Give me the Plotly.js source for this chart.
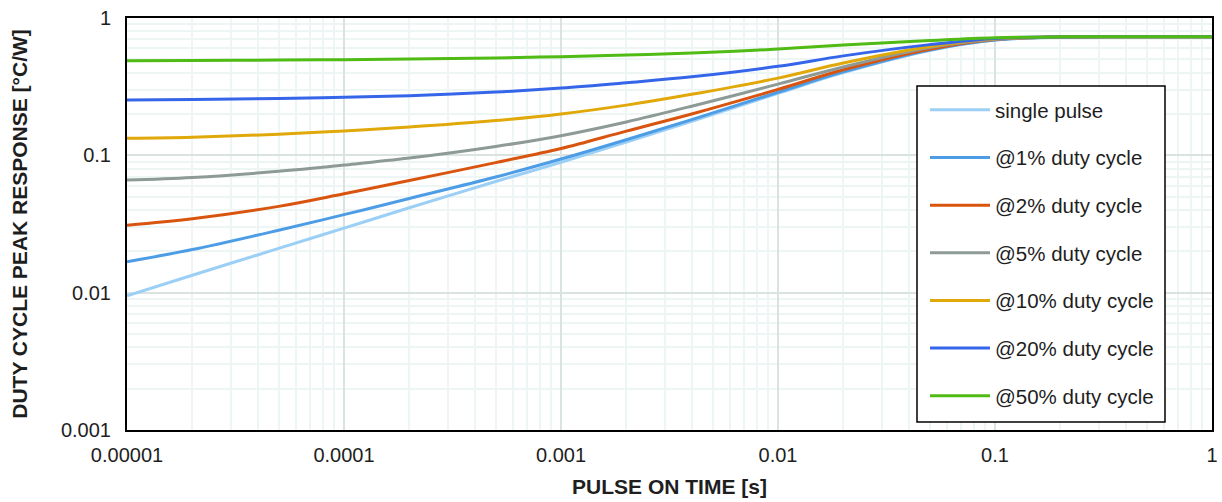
<!DOCTYPE html>
<html>
<head>
<meta charset="utf-8">
<script src="https://cdn.plot.ly/plotly-3.0.1.min.js"></script>
<style>html,body{margin:0;padding:0;background:#fff;}#chart{width:1222px;height:502px;}</style>
</head>
<body>
<div id="chart"></div>
<script>
// Pulse on time [s]
var pulseTime = [1e-5, 2e-5, 5e-5, 1e-4, 2e-4, 5e-4, 1e-3, 2e-3, 4e-3, 1e-2, 2e-2, 5e-2, 0.1, 0.2, 0.5, 1];

var singlePulse = [0.0095, 0.0134, 0.021, 0.0295, 0.0415, 0.0645, 0.089, 0.125, 0.177, 0.283, 0.40, 0.58, 0.69, 0.725, 0.73, 0.73];
var duty1  = [0.0168, 0.0206, 0.0285, 0.037, 0.0485, 0.0695, 0.094, 0.13, 0.182, 0.288, 0.405, 0.585, 0.692, 0.726, 0.73, 0.73];
var duty2  = [0.031, 0.0345, 0.0425, 0.0525, 0.0655, 0.0885, 0.112, 0.15, 0.20, 0.302, 0.42, 0.593, 0.697, 0.727, 0.73, 0.73];
var duty5  = [0.066, 0.069, 0.0765, 0.085, 0.0955, 0.116, 0.139, 0.175, 0.228, 0.33, 0.44, 0.61, 0.70, 0.727, 0.73, 0.73];
var duty10 = [0.133, 0.1355, 0.1425, 0.1505, 0.1605, 0.179, 0.20, 0.232, 0.278, 0.365, 0.47, 0.62, 0.705, 0.728, 0.73, 0.73];
var duty20 = [0.253, 0.2555, 0.2595, 0.2645, 0.272, 0.289, 0.309, 0.338, 0.373, 0.445, 0.53, 0.64, 0.71, 0.728, 0.73, 0.73];
var duty50 = [0.489, 0.491, 0.494, 0.497, 0.503, 0.512, 0.523, 0.537, 0.555, 0.594, 0.635, 0.685, 0.718, 0.729, 0.73, 0.73];

var seriesNames = ['single pulse', '@1% duty cycle', '@2% duty cycle', '@5% duty cycle', '@10% duty cycle', '@20% duty cycle', '@50% duty cycle'];
var seriesValues = [singlePulse, duty1, duty2, duty5, duty10, duty20, duty50];
var seriesColors = ['#9ccff5', '#4d9de6', '#d9540f', '#8d9a96', '#e1a80a', '#3566ea', '#4fbb14'];

var xTickVals = [1e-5, 1e-4, 1e-3, 1e-2, 1e-1, 1];
var xTickText = ['0.00001', '0.0001', '0.001', '0.01', '0.1', '1'];
var yTickVals = [0.001, 0.01, 0.1, 1];
var yTickText = ['0.001', '0.01', '0.1', '1'];

function minorVals(decades) {
  var out = [];
  for (var i = 0; i < decades.length - 1; i++) {
    for (var k = 2; k <= 9; k++) out.push(decades[i] * k);
  }
  return out;
}

var traces = seriesNames.map(function (name, i) {
  return {
    x: pulseTime,
    y: seriesValues[i],
    name: name,
    type: 'scatter',
    mode: 'lines',
    legendgroup: 'g' + i,
    line: {color: seriesColors[i], width: 3, shape: 'spline', smoothing: 1}
  };
});

var fontFam = '"Liberation Sans", Arial, sans-serif';
var axisCommon = {
  type: 'log',
  showline: true,
  linecolor: '#000',
  linewidth: 2,
  mirror: true,
  ticks: '',
  showgrid: true,
  gridcolor: '#dbe3e1',
  gridwidth: 2,
  zeroline: false,
  tickfont: {family: fontFam, size: 20, color: '#1e1e1e'},
  tickmode: 'array'
};

var layout = {
  width: 1222,
  height: 502,
  margin: {l: 127, r: 10, t: 18, b: 72},
  paper_bgcolor: '#fff',
  plot_bgcolor: '#fff',
  font: {family: fontFam, color: '#1e1e1e'},
  xaxis: Object.assign({}, axisCommon, {
    range: [-5, 0],
    tickvals: xTickVals,
    ticktext: xTickText,
    ticklabelstandoff: 6,
    minor: {tickmode: 'array', tickvals: minorVals(xTickVals), showgrid: true, gridcolor: '#eef5f5', gridwidth: 2, ticks: ''},
    title: {text: '<b>PULSE ON TIME [s]</b>', font: {family: fontFam, size: 21, color: '#1e1e1e'}, standoff: 14}
  }),
  yaxis: Object.assign({}, axisCommon, {
    range: [-3, 0],
    tickvals: yTickVals,
    ticktext: yTickText,
    ticklabelstandoff: 10,
    minor: {tickmode: 'array', tickvals: minorVals(yTickVals), showgrid: true, gridcolor: '#eef5f5', gridwidth: 2, ticks: ''},
    title: {text: '<b>DUTY CYCLE PEAK RESPONSE [°C/W]</b>', font: {family: fontFam, size: 21, color: '#1e1e1e'}, standoff: 28}
  }),
  shapes: [{
    type: 'rect', xref: 'paper', yref: 'paper', layer: 'above',
    x0: (917 - 127) / 1085, x1: (1165 - 127) / 1085,
    y0: 1 - (422 - 18) / 412, y1: 1 - (86 - 18) / 412,
    fillcolor: '#fff', line: {color: '#000', width: 1.5}
  }],
  showlegend: true,
  legend: {
    x: (925 - 127) / 1085,
    y: 1 - (90 - 18) / 412,
    xanchor: 'left',
    yanchor: 'top',
    bgcolor: 'rgba(0,0,0,0)',
    borderwidth: 0,
    font: {family: fontFam, size: 20.5, color: '#1e1e1e'},
    traceorder: 'grouped',
    tracegroupgap: 18,
    itemwidth: 60
  }
};

Plotly.newPlot('chart', traces, layout, {displayModeBar: false, staticPlot: true});
</script>
</body>
</html>
